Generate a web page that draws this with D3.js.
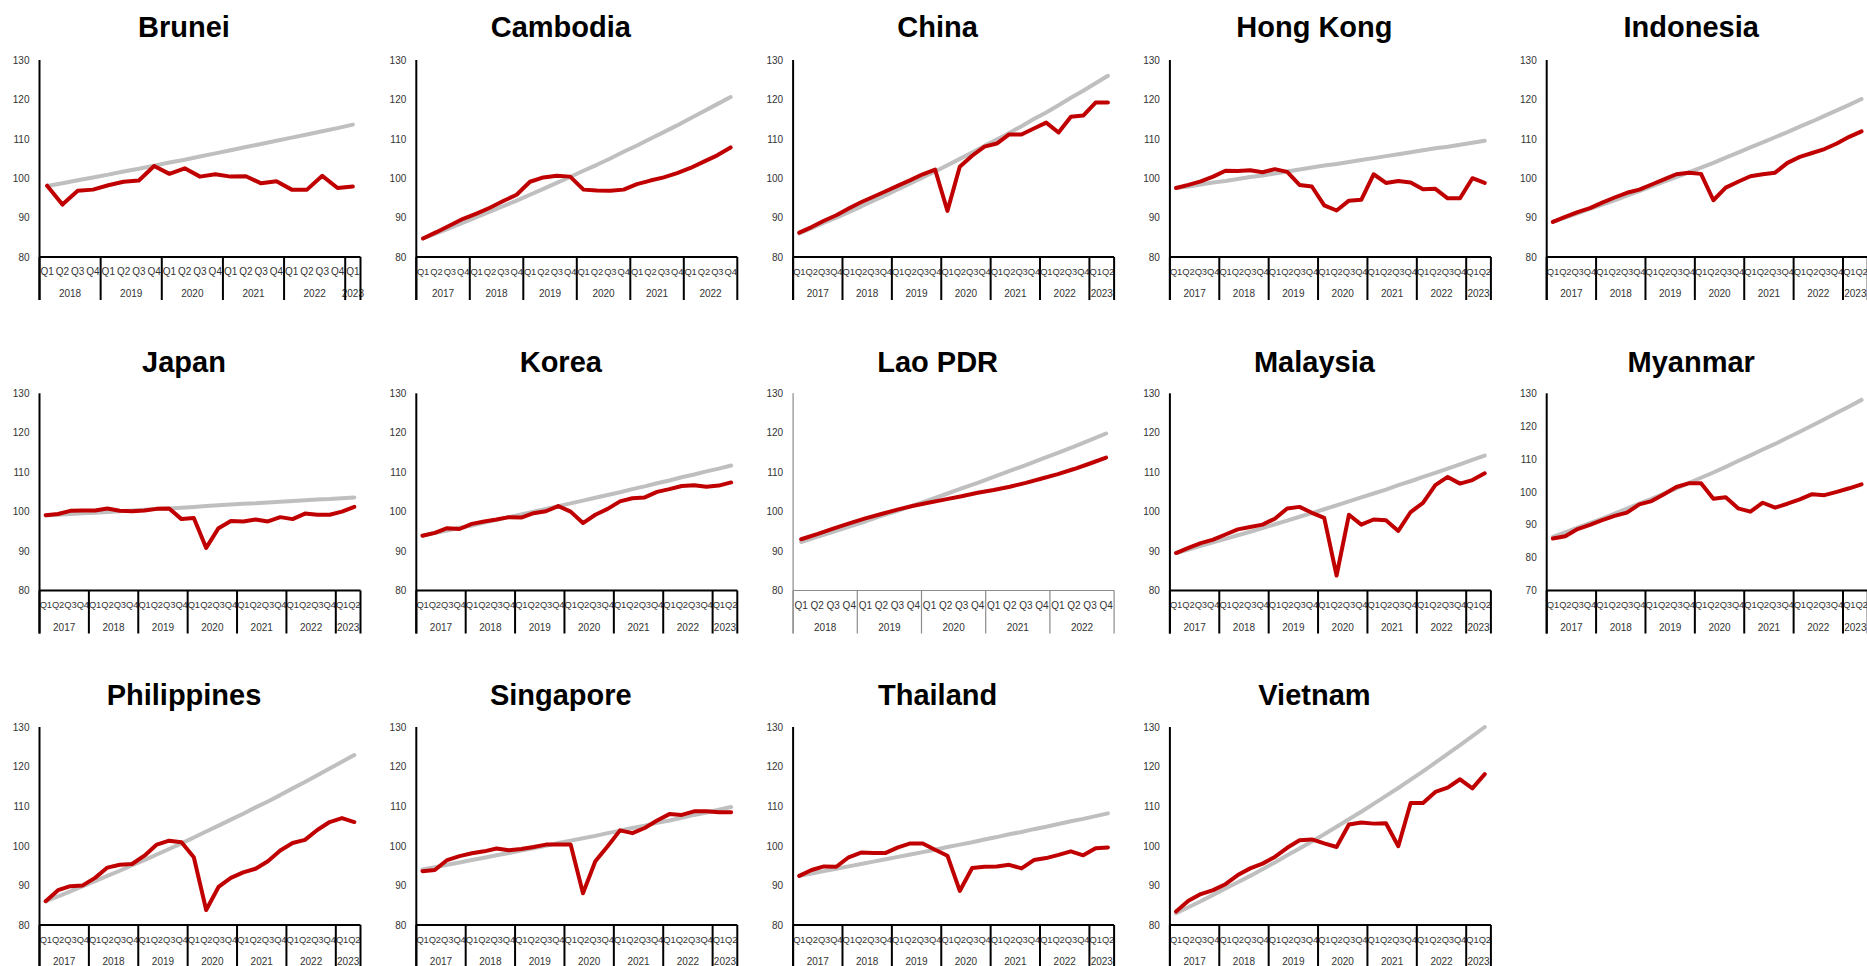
<!DOCTYPE html>
<html>
<head>
<meta charset="utf-8">
<script src="https://cdn.jsdelivr.net/npm/d3@7"></script>
<style>
  html, body { margin: 0; padding: 0; background: #fff; }
  svg { display: block; }
</style>
</head>
<body>
<svg id="chart" width="1867" height="966"></svg>
<script>
// Economies, in panel order (5 per row)
const countries = ["Brunei", "Cambodia", "China", "Hong Kong", "Indonesia",
                   "Japan", "Korea", "Lao PDR", "Malaysia", "Myanmar",
                   "Philippines", "Singapore", "Thailand", "Vietnam"];
// First year of each quarterly series (all start in Q1)
const startYears = [2018, 2017, 2017, 2017, 2017, 2017, 2017, 2018, 2017, 2017, 2017, 2017, 2017, 2017];
const quarterNames = ["Q1", "Q2", "Q3", "Q4"];
const yTicksDefault = [80, 90, 100, 110, 120, 130];
const yTicksMyanmar = [70, 80, 90, 100, 110, 120, 130];

// Real GDP index (2019 = 100): actual path and pre-pandemic trend
const bruneiActual = [98.1, 93.3, 96.8, 97.1, 98.2, 99.1, 99.4, 103.1, 101.1, 102.5, 100.4, 101.0, 100.4, 100.5, 98.7, 99.2, 97.1, 97.1, 100.6, 97.5, 97.9];
const bruneiTrend  = [98.0, 98.7, 99.5, 100.2, 100.9, 101.7, 102.4, 103.2, 104.0, 104.7, 105.5, 106.3, 107.1, 107.9, 108.7, 109.5, 110.3, 111.1, 111.9, 112.7, 113.6];

const cambodiaActual = [84.7, 86.3, 88.0, 89.7, 91.0, 92.5, 94.2, 95.8, 99.1, 100.2, 100.6, 100.4, 97.1, 96.9, 96.8, 97.1, 98.5, 99.4, 100.2, 101.3, 102.6, 104.2, 105.8, 107.8];
const cambodiaTrend  = [84.7, 86.0, 87.3, 88.7, 90.1, 91.5, 92.9, 94.3, 95.8, 97.3, 98.8, 100.3, 101.9, 103.4, 105.0, 106.7, 108.3, 110.0, 111.7, 113.4, 115.2, 117.0, 118.8, 120.6];

const chinaActual = [86.2, 87.6, 89.2, 90.6, 92.3, 93.9, 95.3, 96.7, 98.1, 99.5, 101.0, 102.2, 91.7, 102.9, 105.7, 108.0, 108.8, 111.1, 111.1, 112.6, 114.1, 111.6, 115.6, 115.9, 119.2, 119.2];
const chinaTrend  = [86.0, 87.3, 88.7, 90.0, 91.4, 92.8, 94.3, 95.7, 97.2, 98.7, 100.2, 101.7, 103.3, 104.9, 106.5, 108.2, 109.8, 111.5, 113.2, 115.0, 116.7, 118.5, 120.4, 122.2, 124.1, 126.0];

const hongKongActual = [97.5, 98.3, 99.2, 100.4, 101.9, 101.8, 102.0, 101.5, 102.3, 101.6, 98.3, 97.9, 93.1, 91.8, 94.3, 94.5, 101.0, 98.8, 99.3, 98.9, 97.2, 97.3, 94.9, 94.9, 100.0, 98.8];
const hongKongTrend  = [97.5, 97.9, 98.4, 98.9, 99.3, 99.8, 100.3, 100.7, 101.2, 101.7, 102.2, 102.7, 103.2, 103.6, 104.1, 104.6, 105.1, 105.6, 106.1, 106.6, 107.1, 107.6, 108.0, 108.5, 109.0, 109.5];

const indonesiaActual = [88.9, 90.2, 91.4, 92.4, 93.8, 95.1, 96.3, 97.1, 98.4, 99.7, 101.0, 101.4, 101.1, 94.4, 97.6, 99.1, 100.5, 101.0, 101.4, 103.9, 105.4, 106.4, 107.4, 108.8, 110.5, 111.9];
const indonesiaTrend  = [88.9, 90.0, 91.1, 92.2, 93.3, 94.4, 95.6, 96.7, 97.9, 99.1, 100.3, 101.5, 102.7, 103.9, 105.2, 106.5, 107.8, 109.1, 110.4, 111.7, 113.1, 114.4, 115.8, 117.2, 118.6, 120.1];

const japanActual = [99.1, 99.4, 100.2, 100.3, 100.3, 100.8, 100.2, 100.1, 100.3, 100.7, 100.8, 98.1, 98.4, 90.8, 95.8, 97.6, 97.5, 98.0, 97.5, 98.6, 98.1, 99.5, 99.2, 99.2, 100.0, 101.2];
const japanTrend  = [99.0, 99.2, 99.4, 99.6, 99.7, 99.9, 100.1, 100.3, 100.5, 100.7, 100.8, 101.0, 101.2, 101.4, 101.6, 101.8, 102.0, 102.1, 102.3, 102.5, 102.7, 102.9, 103.1, 103.2, 103.4, 103.6];

const koreaActual = [93.9, 94.6, 95.8, 95.6, 96.9, 97.5, 98.0, 98.6, 98.5, 99.6, 100.1, 101.4, 100.0, 97.1, 99.2, 100.7, 102.6, 103.4, 103.6, 105.0, 105.7, 106.5, 106.7, 106.3, 106.6, 107.4];
const koreaTrend  = [93.9, 94.6, 95.2, 95.9, 96.5, 97.2, 97.9, 98.6, 99.3, 100.0, 100.7, 101.4, 102.1, 102.8, 103.5, 104.2, 104.9, 105.7, 106.4, 107.2, 107.9, 108.7, 109.4, 110.2, 110.9, 111.7];

const laoActual = [93.0, 94.3, 95.7, 97.0, 98.3, 99.4, 100.5, 101.5, 102.3, 103.1, 103.9, 104.8, 105.5, 106.3, 107.3, 108.4, 109.5, 110.8, 112.2, 113.7];
const laoTrend  = [92.3, 93.6, 94.9, 96.2, 97.5, 98.9, 100.2, 101.6, 103.0, 104.4, 105.9, 107.3, 108.8, 110.3, 111.8, 113.4, 114.9, 116.5, 118.1, 119.8];

const malaysiaActual = [89.5, 90.8, 92.0, 92.9, 94.2, 95.5, 96.1, 96.7, 98.2, 100.8, 101.2, 99.7, 98.4, 83.8, 99.2, 96.7, 98.0, 97.8, 95.1, 99.9, 102.2, 106.7, 108.8, 107.1, 108.0, 109.7];
const malaysiaTrend  = [89.5, 90.4, 91.3, 92.2, 93.1, 94.0, 94.9, 95.8, 96.8, 97.7, 98.7, 99.6, 100.6, 101.6, 102.6, 103.6, 104.6, 105.6, 106.7, 107.7, 108.8, 109.8, 110.9, 112.0, 113.1, 114.2];

const myanmarActual = [85.8, 86.5, 88.7, 90.0, 91.4, 92.7, 93.7, 96.2, 97.2, 99.3, 101.5, 102.6, 102.6, 97.9, 98.4, 95.0, 94.0, 96.7, 95.2, 96.4, 97.7, 99.3, 99.0, 100.0, 101.1, 102.3];
const myanmarTrend  = [86.3, 87.7, 89.1, 90.5, 91.9, 93.4, 94.9, 96.4, 97.9, 99.5, 101.1, 102.7, 104.3, 105.9, 107.6, 109.4, 111.1, 112.9, 114.6, 116.5, 118.3, 120.2, 122.1, 124.1, 126.0, 128.0];

const philippinesActual = [86.0, 88.8, 89.8, 90.0, 91.9, 94.5, 95.2, 95.4, 97.5, 100.3, 101.3, 100.9, 97.1, 83.8, 89.6, 91.9, 93.3, 94.2, 96.1, 98.8, 100.7, 101.5, 104.0, 106.0, 107.0, 106.0];
const philippinesTrend  = [86.0, 87.2, 88.5, 89.8, 91.1, 92.4, 93.7, 95.1, 96.4, 97.8, 99.2, 100.6, 102.1, 103.6, 105.1, 106.6, 108.1, 109.7, 111.2, 112.8, 114.5, 116.1, 117.8, 119.5, 121.2, 122.9];

const singaporeActual = [93.6, 93.9, 96.4, 97.4, 98.1, 98.6, 99.3, 98.9, 99.2, 99.7, 100.3, 100.3, 100.3, 88.0, 96.1, 99.9, 103.9, 103.2, 104.5, 106.4, 108.0, 107.8, 108.7, 108.7, 108.5, 108.5];
const singaporeTrend  = [94.0, 94.6, 95.2, 95.8, 96.4, 97.0, 97.6, 98.2, 98.8, 99.4, 100.0, 100.7, 101.3, 101.9, 102.5, 103.2, 103.8, 104.5, 105.1, 105.8, 106.4, 107.1, 107.8, 108.4, 109.1, 109.8];

const thailandActual = [92.4, 93.9, 94.8, 94.7, 97.1, 98.3, 98.2, 98.2, 99.6, 100.6, 100.6, 99.0, 97.5, 88.6, 94.4, 94.7, 94.8, 95.2, 94.3, 96.4, 96.9, 97.7, 98.6, 97.6, 99.4, 99.6];
const thailandTrend  = [92.4, 93.0, 93.6, 94.2, 94.8, 95.4, 96.0, 96.6, 97.2, 97.8, 98.4, 99.0, 99.7, 100.3, 100.9, 101.6, 102.2, 102.9, 103.5, 104.2, 104.8, 105.5, 106.2, 106.8, 107.5, 108.2];

const vietnamActual = [83.4, 86.1, 87.8, 88.8, 90.3, 92.6, 94.3, 95.5, 97.2, 99.5, 101.4, 101.6, 100.6, 99.7, 105.4, 105.9, 105.6, 105.7, 99.9, 110.8, 110.8, 113.6, 114.7, 116.8, 114.5, 118.1];
const vietnamTrend  = [83.0, 84.5, 86.0, 87.6, 89.2, 90.8, 92.4, 94.1, 95.8, 97.6, 99.3, 101.1, 102.9, 104.8, 106.7, 108.6, 110.6, 112.6, 114.6, 116.7, 118.8, 121.0, 123.2, 125.4, 127.7, 130.0];

const actualSeries = [bruneiActual, cambodiaActual, chinaActual, hongKongActual, indonesiaActual,
                      japanActual, koreaActual, laoActual, malaysiaActual, myanmarActual,
                      philippinesActual, singaporeActual, thailandActual, vietnamActual];
const trendSeries = [bruneiTrend, cambodiaTrend, chinaTrend, hongKongTrend, indonesiaTrend,
                     japanTrend, koreaTrend, laoTrend, malaysiaTrend, myanmarTrend,
                     philippinesTrend, singaporeTrend, thailandTrend, vietnamTrend];

// ---- layout ----
const svg = d3.select("#chart");
const colStep = 376.8;
const firstPlotLeft = 39.5;
const plotWidth = 321;
const rowTitleBaseline = [37, 371.5, 705];
const rowPlotTop = [60, 393.3, 727];
const rowPlotBottom = [257, 590.5, 925];
const categoryDepth = 43;      // height of the two-level category band below the axis

const FONT = "'Liberation Sans', Arial, sans-serif";
const RED = "#C00000";
const GREY = "#BFBFBF";

countries.forEach((name, i) => {
  const col = i % 5, row = Math.floor(i / 5);
  const left = firstPlotLeft + col * colStep;
  const right = left + plotWidth;
  const top = rowPlotTop[row], bottom = rowPlotBottom[row];
  const actual = actualSeries[i], trend = trendSeries[i];
  const n = actual.length;
  const isLao = name === "Lao PDR";
  const axisColor = isLao ? "#8c8c8c" : "#000";
  const axisWidth = isLao ? 1.2 : 2;

  const g = svg.append("g").attr("class", "panel");

  // title
  g.append("text")
    .attr("x", col * colStep + 184)
    .attr("y", rowTitleBaseline[row])
    .attr("text-anchor", "middle")
    .attr("font-family", FONT)
    .attr("font-weight", "bold")
    .attr("font-size", 29)
    .attr("fill", "#000")
    .text(name);

  const ticks = name === "Myanmar" ? yTicksMyanmar : yTicksDefault;
  const y = d3.scaleLinear().domain([ticks[0], 130]).range([bottom, top]);
  const x = d3.scaleBand().domain(d3.range(n)).range([left, right]).padding(0);
  const cx = k => x(k) + x.bandwidth() / 2;

  // y axis labels
  const yAxis = d3.axisLeft(y).tickValues(ticks).tickSize(0).tickPadding(10).tickFormat(d3.format("d"));
  const ya = g.append("g").attr("transform", `translate(${left},0)`).call(yAxis);
  ya.select(".domain").remove();
  ya.selectAll("text")
    .attr("font-family", FONT).attr("font-size", 10).attr("fill", "#333");

  // quarter labels
  const qSize = x.bandwidth() >= 14 ? 10 : 9.4;
  const xAxis = d3.axisBottom(x).tickSize(0).tickPadding(11)
    .tickFormat(k => quarterNames[k % 4]);
  const xa = g.append("g").attr("transform", `translate(0,${bottom})`).call(xAxis);
  xa.select(".domain").remove();
  xa.selectAll("text")
    .attr("font-family", FONT).attr("font-size", qSize).attr("fill", "#333")
    .attr("letter-spacing", qSize < 10 ? -0.2 : 0);

  // year groups and separators
  const yearStarts = d3.range(0, n, 4);
  yearStarts.forEach(s => {
    const e = Math.min(s + 4, n);
    const x0 = x(s), x1 = x(e - 1) + x.bandwidth();
    g.append("text")
      .attr("x", (x0 + x1) / 2)
      .attr("y", bottom + 40)
      .attr("text-anchor", "middle")
      .attr("font-family", FONT).attr("font-size", 10).attr("fill", "#333")
      .text(startYears[i] + s / 4);
  });
  const sepX = yearStarts.map(s => x(s)).concat([right]);
  g.selectAll("line.sep").data(sepX).join("line")
    .attr("class", "sep")
    .attr("x1", d => d).attr("x2", d => d)
    .attr("y1", bottom).attr("y2", bottom + categoryDepth)
    .attr("stroke", axisColor).attr("stroke-width", axisWidth);

  // axis lines
  g.append("line")
    .attr("x1", left).attr("x2", left)
    .attr("y1", top).attr("y2", bottom + categoryDepth)
    .attr("stroke", axisColor).attr("stroke-width", axisWidth);
  g.append("line")
    .attr("x1", left).attr("x2", right)
    .attr("y1", bottom).attr("y2", bottom)
    .attr("stroke", axisColor).attr("stroke-width", axisWidth);

  // series
  const line = d3.line().x((d, k) => cx(k)).y(d => y(d));
  g.append("path").datum(trend)
    .attr("d", line)
    .attr("fill", "none").attr("stroke", GREY).attr("stroke-width", 4)
    .attr("stroke-linejoin", "round").attr("stroke-linecap", "round");
  g.append("path").datum(actual)
    .attr("d", line)
    .attr("fill", "none").attr("stroke", RED).attr("stroke-width", 4)
    .attr("stroke-linejoin", "round").attr("stroke-linecap", "round");
});
</script>
</body>
</html>
